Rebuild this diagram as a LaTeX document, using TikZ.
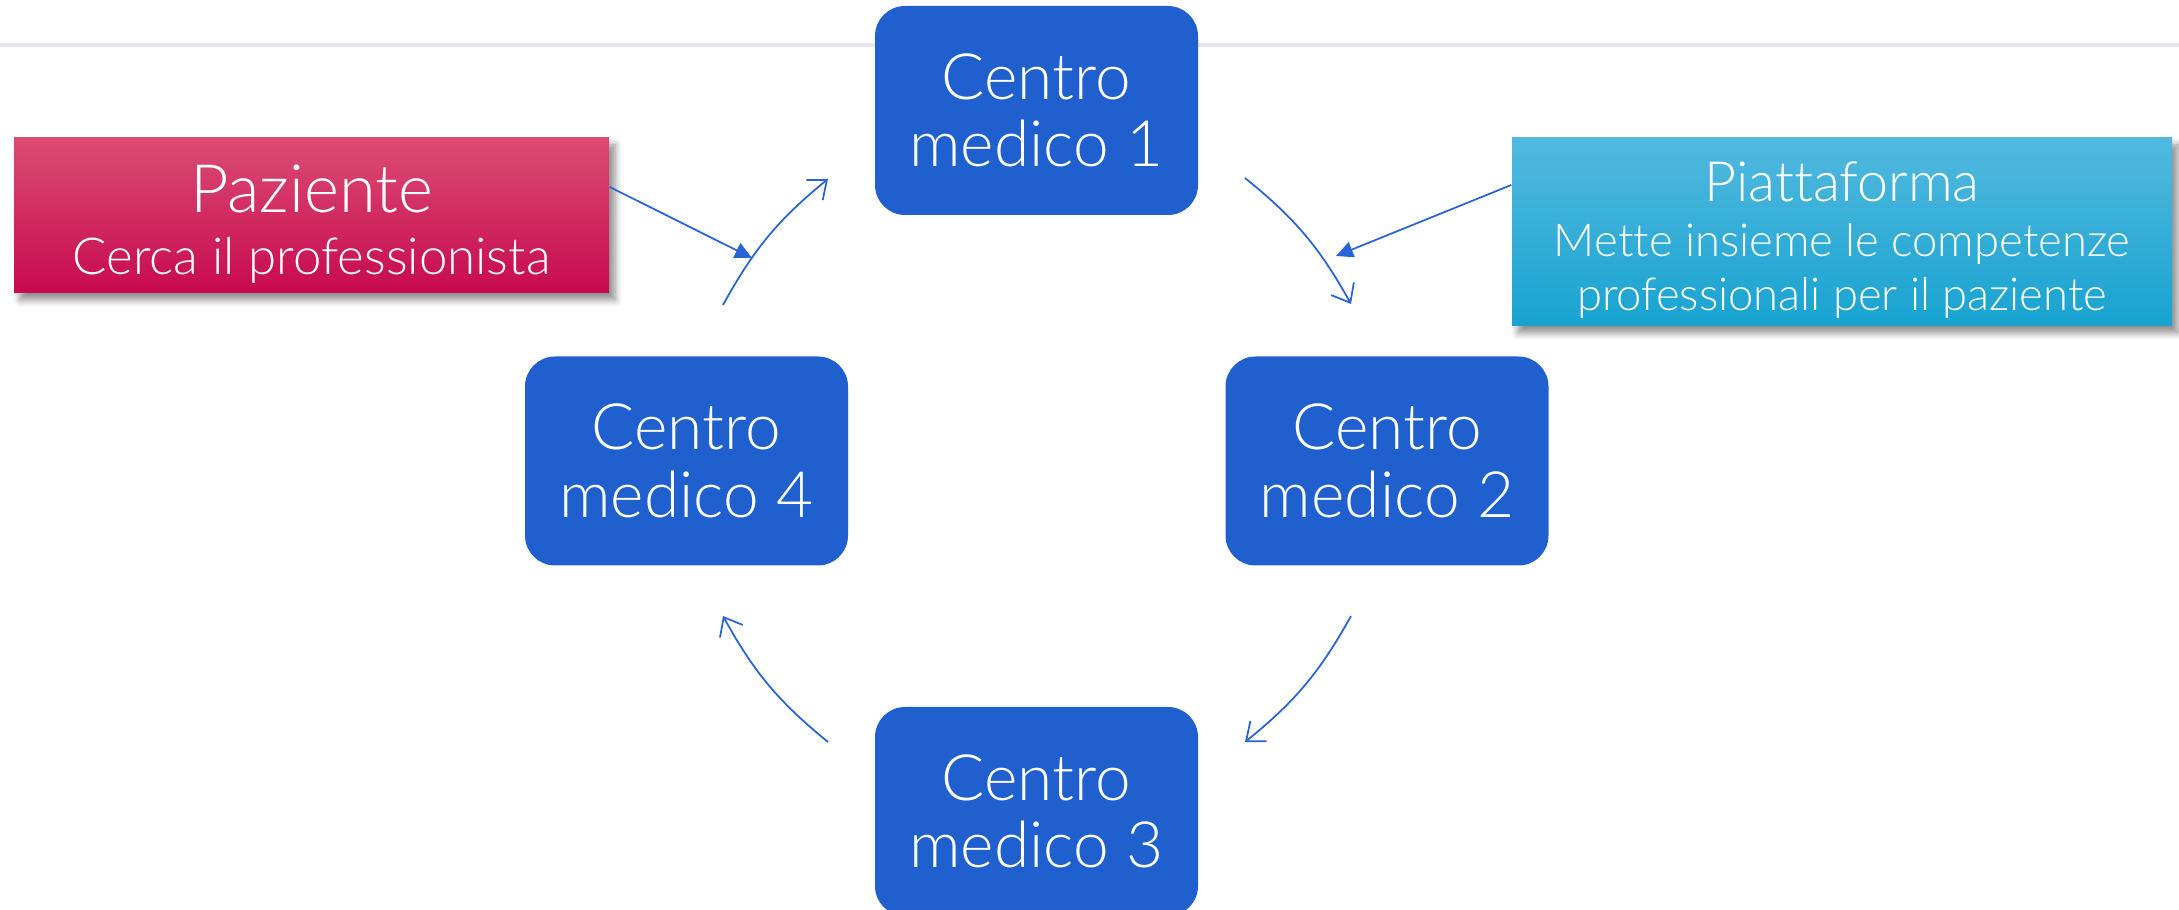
\documentclass[tikz,border=0pt]{standalone}
\usepackage{fontspec}
\setmainfont{Lato}[UprightFont=* Light, Ligatures=NoCommon]
\usetikzlibrary{arrows.meta,shadows.blur}

\definecolor{cblue}{HTML}{1F60CE}
\definecolor{lblue}{HTML}{2A63D6}
\definecolor{pazTop}{HTML}{DB4C74}
\definecolor{pazBot}{HTML}{C70A4F}
\definecolor{piaTop}{HTML}{52B9DF}
\definecolor{piaBot}{HTML}{18A3D0}
\definecolor{topline}{HTML}{E4E6EE}

\begin{document}
\begin{tikzpicture}[
  centro/.style={fill=cblue, rounded corners=0.3cm, minimum width=3.23cm, minimum height=2.09cm,
    text=white, align=center, inner sep=0pt, font=\fontsize{18.2}{19.2}\selectfont},
  labelbox/.style={blur shadow={shadow xshift=0.6mm, shadow yshift=-0.7mm, shadow blur steps=6, shadow opacity=45},
    text=white, align=center, inner sep=0pt},
  ring/.style={lblue, line width=0.5pt, -{Straight Barb[length=1.6mm,width=2.6mm]}},
  pointer/.style={lblue, line width=0.5pt, -{Triangle[length=1.7mm,width=1.6mm]}}
]
\useasboundingbox (0,0) rectangle (21.79,-9.10);
\draw[topline, line width=1pt] (0,-0.45) -- (21.79,-0.45);

\node[centro] (c1) at (10.365,-1.105) {Centro\\medico 1};
\node[centro] (c2) at (13.87,-4.61) {Centro\\medico 2};
\node[centro] (c3) at (10.365,-8.115) {Centro\\medico 3};
\node[centro] (c4) at (6.865,-4.61) {Centro\\medico 4};

\node[labelbox, top color=pazTop, bottom color=pazBot, minimum width=5.95cm, minimum height=1.55cm,
  font=\fontsize{14.5}{17.6}\selectfont] (paz) at (3.115,-2.155)
  {\rule{0pt}{6.5mm}{\fontsize{19}{21}\selectfont Paziente}\\Cerca il professionista};
\node[labelbox, top color=piaTop, bottom color=piaBot, minimum width=6.6cm, minimum height=1.88cm,
  font=\fontsize{12.9}{15.5}\selectfont] (piat) at (18.42,-2.32)
  {\rule{0pt}{5.6mm}{\fontsize{15.8}{18}\selectfont Piattaforma}\\Mette insieme le competenze\\professionali per il paziente};

% giro tra i centri
\coordinate (a1s) at (7.23,-3.05);
\coordinate (a1e) at (8.28,-1.79);
\coordinate (a2s) at (12.45,-1.78);
\coordinate (a2e) at (13.51,-3.04);
\coordinate (a3s) at (13.51,-6.16);
\coordinate (a3e) at (12.45,-7.42);
\coordinate (a4s) at (8.28,-7.42);
\coordinate (a4e) at (7.23,-6.16);
\draw[ring] (a1s) to[bend left=11] (a1e);
\draw[ring] (a2s) to[bend left=11] (a2e);
\draw[ring] (a3s) to[bend left=11] (a3e);
\draw[ring] (a4s) to[bend left=11] (a4e);

\coordinate (pazhit) at (7.52,-2.58);
\coordinate (piathit) at (13.36,-2.56);
\draw[pointer] ([yshift=2.85mm]paz.east) -- (pazhit);
\draw[pointer] ([yshift=4.7mm]piat.west) -- (piathit);

\end{tikzpicture}
\end{document}
